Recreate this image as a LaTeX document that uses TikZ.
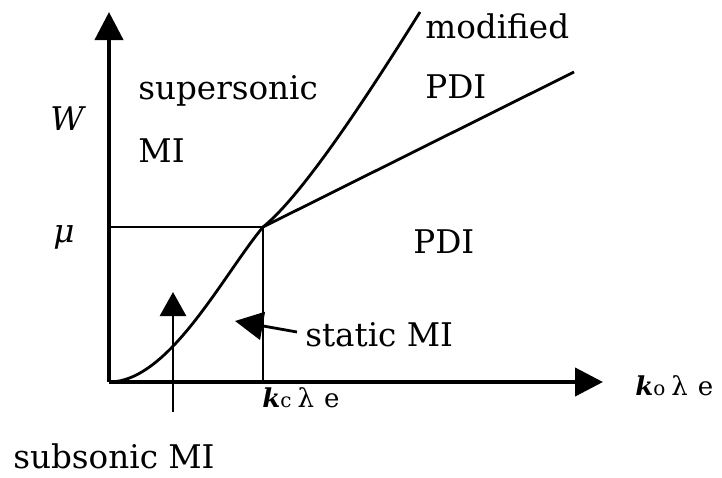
\documentclass[tikz,border=0pt]{standalone}
\usepackage{fontspec}
\setmainfont{DejaVu Serif}
\usetikzlibrary{arrows.meta,positioning}
\tikzset{
  axis/.style={line width=2.1pt,-{Triangle[length=14pt,width=14pt]}},
  curve/.style={line width=1.4pt},
  pointer/.style={line width=1.4pt,-{Triangle[length=12pt,width=13pt]}},
  lbl/.style={font=\fontsize{16.3}{19}\selectfont,inner sep=0pt,anchor=base west},
  axlbl/.style={font=\fontsize{13}{15}\selectfont,inner sep=0pt,anchor=base west}
}
\newcommand{\wavenum}[1]{\textbf{\textit{k}}{\fontsize{10}{12}\selectfont #1}\hspace{3pt}λ\hspace{5pt}e}
\begin{document}
\begin{tikzpicture}[x=0.5pt,y=-0.5pt]
  \useasboundingbox (0,0) rectangle (722,477);
  % axes
  \coordinate (O) at (109,382);
  \coordinate (ytip) at (109,12);
  \coordinate (xtip) at (603,382);
  \draw[axis] (O) -- (ytip);
  \draw[axis] (O) -- (xtip);
  % thresholds
  \coordinate (P) at (263,227);
  \coordinate (mu0) at (109,227);
  \coordinate (kc0) at (263,382);
  \draw[curve] (mu0) -- (P) -- (kc0);
  % boundaries
  \coordinate (cend) at (420,12);
  \coordinate (lend) at (574,72);
  \draw[curve] (O) .. controls (169,382) and (223,275) .. (P)
                   .. controls (303,195) and (370,92) .. (cend);
  \draw[curve] (P) -- (lend);
  % pointers
  \coordinate (sub0) at (173,412);
  \coordinate (sub1) at (173,292);
  \draw[pointer] (sub0) -- (sub1);
  \coordinate (st0) at (297,332);
  \coordinate (st1) at (235,321);
  \draw[pointer,-{Triangle[length=14pt,width=14pt]}] (st0) -- (st1);
  % labels
  \node[lbl] (W) at (50,130) {\textit{W}};
  \node[lbl] (mu) at (53,242) {\textit{μ}};
  \node[lbl] (super) at (138,99) {supersonic};
  \node[lbl] (superMI) at (138,162) {MI};
  \node[lbl] (modif) at (425,38) {modified};
  \node[lbl] (modPDI) at (425,98) {PDI};
  \node[lbl] (PDI) at (413,253) {PDI};
  \node[lbl] (static) at (305,346) {static MI};
  \node[lbl] (subsonic) at (13,468) {subsonic MI};
  \node[axlbl] (kc) at (262,407) {\wavenum{c}};
  \node[axlbl] (ko) at (635,395) {\wavenum{o}};
\end{tikzpicture}
\end{document}
